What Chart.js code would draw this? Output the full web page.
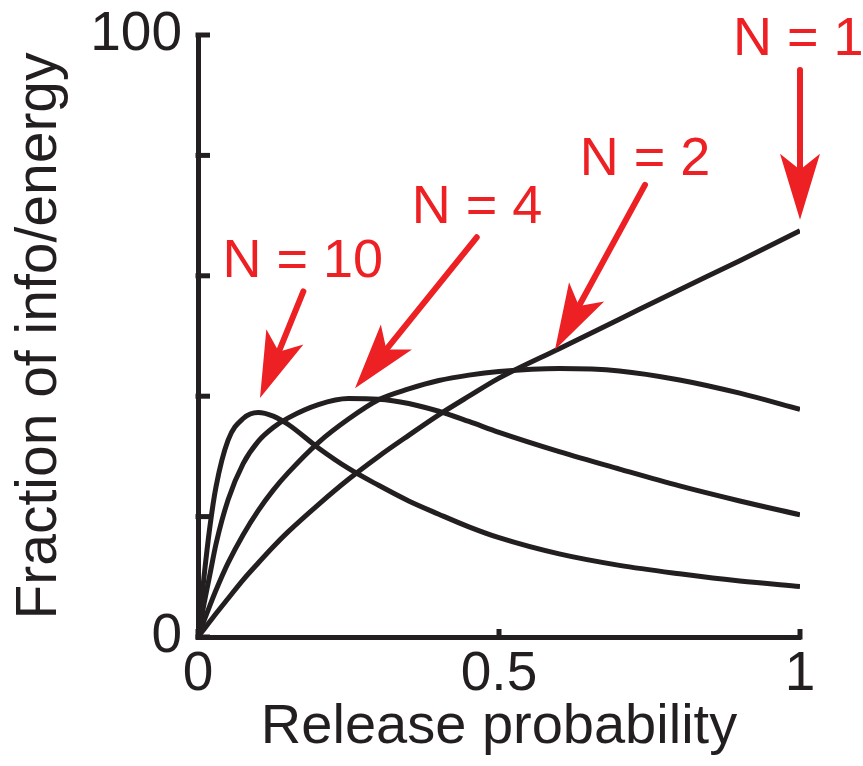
<!DOCTYPE html>
<html>
<head>
<meta charset="utf-8">
<script src="https://cdn.jsdelivr.net/npm/chart.js@4.4.1/dist/chart.umd.min.js"></script>
<style>
  html, body { margin: 0; padding: 0; background: #ffffff; }
  canvas { display: block; }
</style>
</head>
<body>
<canvas id="chart" width="863" height="766"></canvas>
<script>
// Release probability grid shared by every curve
const releaseProb = [0, 0.01, 0.02, 0.03, 0.05, 0.075, 0.1, 0.125, 0.15, 0.2, 0.25, 0.3, 0.35, 0.4, 0.45, 0.5, 0.6, 0.7, 0.8, 0.9, 1.0];

// Fraction of info/energy (%) for N release sites
const fracN1  = [0, 1.3, 2.6, 3.9, 6.4, 9.5, 12.3, 15.0, 17.5, 22.0, 26.2, 30.0, 33.5, 36.9, 40.0, 43.0, 47.9, 52.8, 57.7, 62.5, 67.5];
const fracN2  = [0, 2.7, 5.3, 7.8, 12.3, 17.0, 21.0, 24.4, 27.3, 32.3, 36.2, 39.4, 41.2, 42.6, 43.5, 44.1, 44.6, 44.2, 42.7, 40.5, 37.8];
const fracN4  = [0, 5.5, 10.5, 15.5, 22.8, 28.8, 32.5, 34.8, 36.4, 38.6, 39.6, 39.5, 38.8, 37.5, 35.8, 34.0, 30.8, 27.9, 25.1, 22.6, 20.3];
const fracN10 = [0, 10.0, 18.5, 25.0, 32.7, 36.3, 37.3, 36.7, 35.3, 31.4, 28.0, 25.2, 22.6, 20.4, 18.3, 16.5, 13.8, 11.9, 10.5, 9.3, 8.4];

const seriesNames = ['N = 1', 'N = 2', 'N = 4', 'N = 10'];
const seriesValues = [fracN1, fracN2, fracN4, fracN10];

// Axis ticks
const xTickValues = [0, 0.5, 1];
const xTickLabels = ['0', '0.5', '1'];
const yTickValues = [0, 20, 40, 60, 80, 100];
const yTickLabels = ['0', '', '', '', '', '100'];

// Callouts (data coordinates): label centre, arrow tail, arrow tip
const calloutLabelAt = [[0.997, 99.2], [0.7425, 79.2], [0.4635, 71.3], [0.174, 62.2]];
const calloutTailAt  = [[1.0, 94.2], [0.7425, 75.1], [0.463, 66.4], [0.175, 57.4]];
const calloutTipAt   = [[1.0, 69.3], [0.593, 47.7], [0.2608, 41.3], [0.103, 39.7]];

const INK = '#231f20';
const RED = '#ed2024';
const FONT_FAMILY = '"Liberation Sans", Arial, Helvetica, sans-serif';

const datasets = seriesValues.map((vals, i) => ({
  label: seriesNames[i],
  data: releaseProb.map((p, j) => ({ x: p, y: vals[j] })),
  borderColor: INK,
  borderWidth: 5,
  pointRadius: 0,
  fill: false,
  cubicInterpolationMode: 'monotone',
  borderCapStyle: 'butt',
  borderJoinStyle: 'round'
}));

// Inward tick marks on both axes
const inwardTicks = {
  id: 'inwardTicks',
  afterDraw(chart) {
    const { ctx, scales: { x, y } } = chart;
    ctx.save();
    ctx.strokeStyle = INK;
    ctx.lineWidth = 5;
    ctx.lineCap = 'butt';
    yTickValues.forEach(v => {
      const py = y.getPixelForValue(v);
      ctx.beginPath();
      ctx.moveTo(x.left - 2.5, py);
      ctx.lineTo(x.left + 12, py);
      ctx.stroke();
    });
    xTickValues.forEach(v => {
      const px = x.getPixelForValue(v);
      ctx.beginPath();
      ctx.moveTo(px, y.bottom + 2.5);
      ctx.lineTo(px, y.bottom - 8);
      ctx.stroke();
    });
    ctx.restore();
  }
};

// Red labels with barbed arrows pointing at each curve
const callouts = {
  id: 'callouts',
  afterDraw(chart) {
    const { ctx, scales: { x, y } } = chart;
    ctx.save();
    ctx.fillStyle = RED;
    ctx.strokeStyle = RED;
    ctx.font = '54px ' + FONT_FAMILY;
    ctx.textAlign = 'center';
    ctx.textBaseline = 'middle';
    seriesNames.forEach((name, i) => {
      const lx = x.getPixelForValue(calloutLabelAt[i][0]);
      const ly = y.getPixelForValue(calloutLabelAt[i][1]);
      ctx.fillText(name, lx, ly);

      const tx = x.getPixelForValue(calloutTailAt[i][0]);
      const ty = y.getPixelForValue(calloutTailAt[i][1]);
      const hx = x.getPixelForValue(calloutTipAt[i][0]);
      const hy = y.getPixelForValue(calloutTipAt[i][1]);
      const len = Math.hypot(hx - tx, hy - ty);
      const ux = (hx - tx) / len, uy = (hy - ty) / len;
      const nx = -uy, ny = ux;
      const back = 66, notch = 50, half = 20;

      ctx.lineWidth = 6;
      ctx.lineCap = 'round';
      ctx.beginPath();
      ctx.moveTo(tx, ty);
      ctx.lineTo(hx - ux * notch, hy - uy * notch);
      ctx.stroke();

      ctx.beginPath();
      ctx.moveTo(hx, hy);
      ctx.lineTo(hx - ux * back + nx * half, hy - uy * back + ny * half);
      ctx.lineTo(hx - ux * notch, hy - uy * notch);
      ctx.lineTo(hx - ux * back - nx * half, hy - uy * back - ny * half);
      ctx.closePath();
      ctx.fill();
    });
    ctx.restore();
  }
};

new Chart(document.getElementById('chart'), {
  type: 'line',
  data: { datasets },
  options: {
    responsive: false,
    animation: false,
    events: [],
    layout: { padding: { top: 35, right: 63, left: 0, bottom: 0 } },
    plugins: {
      legend: { display: false },
      tooltip: { enabled: false }
    },
    scales: {
      x: {
        type: 'linear',
        min: 0,
        max: 1,
        afterBuildTicks(scale) { scale.ticks = xTickValues.map(v => ({ value: v })); },
        afterFit(scale) {
          scale.height = 129;
          scale.paddingLeft = 0;
          scale.paddingRight = 0;
        },
        grid: { display: false, drawTicks: false },
        border: { display: true, color: INK, width: 5 },
        ticks: {
          color: INK,
          padding: 5,
          maxRotation: 0,
          autoSkip: false,
          font: { family: FONT_FAMILY, size: 55 },
          callback(value) { return xTickLabels[xTickValues.indexOf(value)]; }
        },
        title: {
          display: true,
          text: 'Release probability',
          color: INK,
          padding: { top: 0, bottom: 5 },
          font: { family: FONT_FAMILY, size: 56 }
        }
      },
      y: {
        type: 'linear',
        min: 0,
        max: 100,
        afterBuildTicks(scale) { scale.ticks = yTickValues.map(v => ({ value: v })); },
        afterFit(scale) {
          scale.width = 198;
          scale.paddingTop = 0;
          scale.paddingBottom = 0;
        },
        grid: { display: false, drawTicks: false },
        border: { display: true, color: INK, width: 5 },
        ticks: {
          color: INK,
          padding: 16,
          autoSkip: false,
          font: { family: FONT_FAMILY, size: 55 },
          callback(value) { return yTickLabels[yTickValues.indexOf(value)]; }
        },
        title: {
          display: true,
          text: 'Fraction of info/energy',
          color: INK,
          padding: { top: 6, bottom: 0 },
          font: { family: FONT_FAMILY, size: 57 }
        }
      }
    }
  },
  plugins: [inwardTicks, callouts]
});
</script>
</body>
</html>
